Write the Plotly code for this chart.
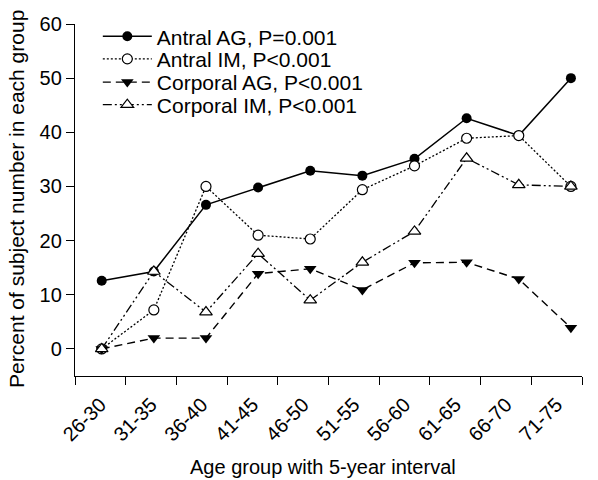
import plotly.graph_objects as go

age_groups = ["26-30", "31-35", "36-40", "41-45", "46-50", "51-55", "56-60", "61-65", "66-70", "71-75"]
antral_ag = [12.6, 14.3, 26.6, 29.8, 32.9, 32.0, 35.1, 42.6, 39.4, 50.0]
antral_im = [0, 7.2, 30.0, 21.0, 20.3, 29.4, 33.8, 38.9, 39.4, 30.0]
corporal_ag = [0, 2.0, 2.0, 13.9, 14.8, 10.9, 15.9, 16.0, 12.9, 3.9]
corporal_im = [0, 14.3, 6.8, 17.6, 9.0, 16.0, 21.7, 35.2, 30.3, 30.0]
y_ticks = [0, 10, 20, 30, 40, 50, 60]

FONT = "Liberation Sans, Arial, sans-serif"
idx = list(range(len(age_groups)))

fig = go.Figure()
fig.add_trace(go.Scatter(
    x=idx, y=antral_ag, mode="lines+markers", name="Antral AG, P=0.001",
    line=dict(color="black", width=1.5),
    marker=dict(symbol="circle", size=10, color="black"),
    legend="legend"))
fig.add_trace(go.Scatter(
    x=idx, y=antral_im, mode="lines+markers", name="Antral IM, P<0.001",
    line=dict(color="black", width=1.3, dash="2px,2px"),
    marker=dict(symbol="circle", size=10, color="white", line=dict(color="black", width=1.2)),
    legend="legend2"))
fig.add_trace(go.Scatter(
    x=idx, y=corporal_ag, mode="lines+markers", name="Corporal AG, P<0.001",
    line=dict(color="black", width=1.4, dash="8px,5px"),
    marker=dict(symbol="triangle-down", size=11, color="black"),
    legend="legend3"))
fig.add_trace(go.Scatter(
    x=idx, y=corporal_im, mode="lines+markers", name="Corporal IM, P<0.001",
    line=dict(color="black", width=1.3, dash="9px,3px,2px,3px,2px,3px"),
    marker=dict(symbol="triangle-up", size=11, color="white", line=dict(color="black", width=1.2)),
    legend="legend4", xaxis="x2"))

xr0, xr1 = -0.5125, 9.213
step = (xr1 - xr0) / len(age_groups)
label_pos = [xr0 + (k + 0.5) * step for k in range(len(age_groups))]
bound_pos = [xr0 + k * step for k in range(len(age_groups) + 1)]

leg_common = dict(font=dict(family=FONT, size=21, color="black"), bgcolor="rgba(0,0,0,0)",
                  borderwidth=0, xanchor="left", yanchor="middle", x=0.045, itemwidth=49)
ys = [0.964, 0.900, 0.834, 0.770]
fig.update_layout(
    width=598, height=480,
    margin=dict(l=75, r=16, t=24, b=104),
    paper_bgcolor="white", plot_bgcolor="white",
    font=dict(family=FONT, color="black"),
    showlegend=True,
    legend=dict(**leg_common, y=ys[0]),
    legend2=dict(**leg_common, y=ys[1]),
    legend3=dict(**leg_common, y=ys[2]),
    legend4=dict(**leg_common, y=ys[3]),
    xaxis=dict(
        range=[xr0, xr1], showgrid=False, zeroline=False, automargin=False,
        showline=True, linecolor="black", linewidth=1.3,
        tickmode="array", tickvals=label_pos, ticktext=age_groups,
        ticks="outside", ticklen=8, tickcolor="rgba(0,0,0,0)",
        tickangle=-45, tickfont=dict(family=FONT, size=20, color="black"),
    ),
    xaxis2=dict(
        range=[xr0, xr1], overlaying="x", anchor="y", side="bottom",
        showgrid=False, zeroline=False, automargin=False, showline=False,
        tickmode="array", tickvals=bound_pos, showticklabels=False,
        ticks="outside", ticklen=8, tickwidth=1.3, tickcolor="black",
    ),
    yaxis=dict(
        range=[-5, 60], showgrid=False, zeroline=False, automargin=False,
        showline=True, linecolor="black", linewidth=1.3,
        tickmode="array", tickvals=y_ticks,
        ticks="outside", ticklen=8, tickwidth=1.3, tickcolor="black",
        tickfont=dict(family=FONT, size=20, color="black"),
    ),
    annotations=[
        dict(text="Age group with 5-year interval", xref="paper", yref="paper",
             x=0.4895, y=-0.2585, xanchor="center", yanchor="middle", showarrow=False,
             font=dict(family=FONT, size=20, color="black")),
        dict(text="Percent of subject number in each group", xref="paper", yref="paper",
             x=-0.1145, y=0.503, xanchor="center", yanchor="middle", showarrow=False,
             textangle=-90, font=dict(family=FONT, size=21, color="black")),
    ],
)

fig.write_html("out.html", config={"displayModeBar": False},
               post_script="document.body.style.margin='0';")
